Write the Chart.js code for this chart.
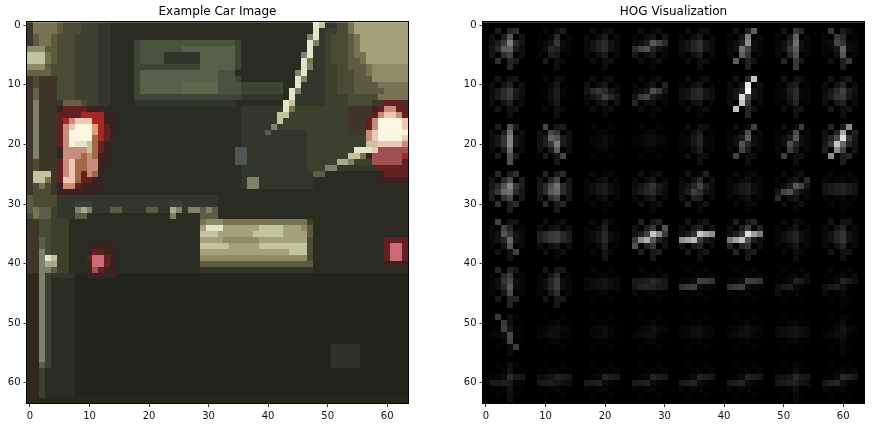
<!DOCTYPE html>
<html>
<head>
<meta charset="utf-8">
<script src="https://cdn.jsdelivr.net/npm/chart.js@4.4.1/dist/chart.umd.min.js"></script>
<style>
  html, body { margin: 0; padding: 0; background: #fff; overflow: hidden; }
  #wrap { position: relative; width: 874px; height: 427px; }
  .panel { position: absolute; top: 0; height: 427px; }
  #car-panel { left: 0; width: 437px; }
  #hog-panel { left: 456px; width: 418px; }
</style>
</head>
<body>
<div id="wrap">
  <div class="panel" id="car-panel"><canvas id="car-chart" width="437" height="427"></canvas></div>
  <div class="panel" id="hog-panel"><canvas id="hog-chart" width="418" height="427"></canvas></div>
</div>
<script>
// ----------------------------------------------------
// Data
// ----------------------------------------------------
const tickValues = [0, 10, 20, 30, 40, 50, 60];
const carTitle = 'Example Car Image';
const hogTitle = 'HOG Visualization';

// colour key for the 64x64 car picture
const carPalette = {
  '.': '#22251c', ',': '#2a2c22', ':': '#33362a', ';': '#3d3f2f',
  'o': '#4b4a35', 'O': '#5e5a3f', 'q': '#777453', 'k': '#8e8c66',
  'K': '#a4a27a', 'y': '#c4c3a0', 'Y': '#e4e4c8', 'w': '#fdf7e2',
  'g': '#3e4534', 'G': '#4a5240', 'h': '#56604a', 'H': '#5e684c',
  'i': '#30352a', 'b': '#3e3628', 'B': '#6a6048', 'x': '#7e806c',
  'X': '#a8a894', 'z': '#5c5c48', 'r': '#3a2220', 's': '#642020',
  'R': '#a42828', 'p': '#c88c7c', 'P': '#f0c6b4', 'c': '#a06a46',
  'a': '#e0a070', 'm': '#c86a7a', 'M': '#a05050', 'v': '#4d5852',
  'd': '#2e281d', 'u': '#303229', 'e': '#2a2719'
};

// one string per image row, run-length tokens "<colour><count>"
const carRows = [
  'b q4 O o3 ;3 :2 ,34 Y y :2 o2 q K9',
  'b q4 O o3 ;3 :2 ,34 Y : ;2 o2 q K9',
  'b O q2 O o3 ;4 :2 ,33 x Y : ; o3 O q K8',
  'b O q2 O o3 ;4 :2 ,4 g G16 g ,11 Y x : ; o3 O q K8',
  'k3 O2 o3 ;4 :2 ,4 g G7 h9 g ,11 Y :2 ; o3 O q K8',
  'y3 q O o3 ;4 :2 ,4 g G4 i6 h6 g ,10 x Y :2 ; o3 O q2 K7',
  'y3 q O o3 ;4 :2 ,4 g G4 i6 h6 g ,10 Y q :2 ; o3 O2 q K7',
  'k3 O o4 ;4 :2 ,4 g11 h6 g ,10 Y x :2 ;2 o2 O3 q k6',
  'B4 o4 ;4 :2 ,4 g h13 G3 , ,9 x Y :3 ;2 o3 O2 q k6',
  'b o b3 o3 ;4 :2 ,4 g h13 G3 g ,9 Y x :3 ;2 o3 O3 k6',
  'b o b3 o3 ;4 :2 ,4 g h7 H6 G4 g7 ,2 Y :4 ;2 o3 O4 q5',
  'b B b3 o3 ;4 :2 ,4 g h7 H6 G4 g7 , Y x :4 ;2 o3 O5 q4',
  'b B b3 o3 ;4 :2 ,4 g18 :7 , Y :5 ;4 o5 q5',
  'b x b4 B3 o ;2 :2 ,4 i17 ,8 Y y :5 ;4 o4 b2 s3 b',
  'b x b3 r s4 r3 ,23 :7 Y q ;9 b4 r s p2 s2',
  'b x b3 s4 R4 r r ,21 :6 y2 ;10 b4 s p P2 p s',
  'b x b3 s R p P3 R2 r r ,21 :6 y ;11 b3 s p w4 P',
  'b x b3 s p P w3 a R s r ,21 :5 x ;12 b3 s p w4 P',
  'b x b3 s p w4 a R s r ,21 :4 z :6 ;7 b3 p P w5',
  'b x b3 s p w4 c R s r ,21 :11 ;10 p P w4 P',
  'b x b3 s p w Y2 y c s r ,22 :11 ;10 y2 P4 p',
  'b x b3 r p4 y c s r ,21 v v :10 ;8 Y3 P M5',
  'b x b3 r p3 c p c r2 ,21 v v :10 ;7 y2 q r M5 R',
  'b o b3 s p P c2 p2 r2 ,21 v v :10 ;5 X2 x ;3 M5 s',
  'b o b3 s p P c2 p2 r , ,22 :11 ;3 x2 :7 s5',
  'b y3 b s p P c s p c r , ,22 :12 z2 ,9 r s4',
  'b y2 q b s P2 c s2 r2 , ,22 : x2 :9 ,11 r5',
  'b o q o b r p2 s r4 , ,22 : x2 :9 ,16',
  'b o3 b r7 ,52',
  'O o4 :27 ,32',
  'O o4 :3 ;3 :13 ;2 :6 ,32',
  'O q z2 ; :3 x X x :3 z2 :4 z2 :2 X x : x2 z x z ,32',
  'o q z2 ; :3 z2 ,14 x ,4 z3 d9 ,23',
  'b2 o2 ;3 ,22 q k3 q14 ; ,16',
  'b2 o2 ;3 ,22 K Y3 K6 y4 K3 k O ,16',
  'b2 o2 ;3 ,22 y3 K6 y5 K4 O ,16',
  'b2 z o ;3 ,22 K4 k6 K8 o ,12 s4',
  'b2 z o ;3 ,3 r5 ,14 y5 K5 y8 o ,12 s m2 s',
  'b2 x o ;3 ,3 r s2 r2 ,14 K15 y3 o ,12 s m2 s',
  'b2 x Y y ;2 ,3 s m2 s r ,14 k18 o ,12 s m2 s',
  'b2 x X2 ;2 ,3 r m2 s r ,14 O19 ,12 r4',
  'b2 x2 z ;2 ,3 r M s r2 ,14 :19 ,16',
  'd2 x ; :4 .2 r5 .49',
  'd2 x ; ,4 .56',
  'd2 x ; ,4 .56',
  'd2 x ; ,4 .56',
  'd2 x ; ,4 .56',
  'd2 x ; ,4 .56',
  'd2 x ; ,4 .56',
  'd2 x ; ,4 .56',
  'd2 x ; ,4 .56',
  'd2 x ; ,4 .56',
  'd2 x ; ,4 .56',
  'd2 x ; ,4 .56',
  'd2 x ; ,4 .43 u5 .8',
  'd2 x ; ,4 .43 u5 .8',
  'd2 x ; ,4 .43 u5 .8',
  'd2 z ; ,4 .43 u5 .8',
  'd2 ; ,5 .56',
  'd2 ; ,5 .56',
  'd2 ; ,5 .56',
  'd2 ; ,5 .56',
  'd2 ; ,5 .56',
  'd2 e62'
];

// HOG histograms: 8x8 cells, 9 orientation bins (0..160 deg) per cell
const hogCells = [
  [[16,10,10,9,9,6,6,6,6], [6,6,6,3,2,2,2,2,2], [5,3,3,4,4,4,4,3,3], [3,3,3,10,18,4,3,3,3],
   [5,3,3,4,5,5,4,3,3], [14,20,20,4,3,3,3,4,4], [24,8,8,4,3,3,3,5,5], [12,3,3,2,2,3,3,12,12]],
  [[7,4,4,5,6,5,5,4,4], [6,2,2,1,1,1,1,2,2], [4,3,3,3,5,9,8,3,3], [3,3,3,16,8,3,3,2,2],
   [3,3,3,3,6,6,3,3,3], [16,42,42,5,4,4,4,4,4], [7,3,3,2,2,2,2,4,4], [6,5,5,6,6,5,5,4,4]],
  [[34,6,6,5,5,5,5,6,6], [10,6,6,6,7,6,6,15,15], [1,1,1,1,1,1,1,1,1], [1,1,1,1,2,2,1,1,1],
   [6,3,3,2,2,2,2,3,3], [5,14,14,4,3,3,3,3,3], [5,13,13,4,3,3,3,3,3], [12,30,30,14,10,8,8,8,8]],
  [[12,10,10,12,12,9,9,9,9], [11,9,9,9,10,9,9,8,8], [2,2,2,3,3,3,3,2,2], [4,3,3,4,7,5,4,3,3],
   [4,7,7,7,5,4,4,4,4], [3,2,2,3,3,3,3,2,2], [3,3,3,18,10,3,3,3,3], [2,1,1,3,8,8,3,1,1]],
  [[8,4,4,4,4,4,4,14,14], [3,3,3,6,12,12,6,3,3], [9,2,2,2,3,3,2,2,2], [10,7,7,35,25,7,7,7,7],
   [5,5,5,8,62,6,5,5,5], [10,8,8,15,52,6,6,6,6], [5,2,2,3,3,3,3,2,2], [7,4,4,4,4,4,4,4,4]],
  [[15,5,5,3,3,3,3,8,8], [10,5,5,3,3,3,3,5,5], [1,1,1,1,4,4,1,1,1], [1,1,1,4,10,10,1,1,1],
   [1,1,1,3,22,2,1,1,1], [1,1,1,3,22,2,1,1,1], [1,1,1,6,5,1,1,1,1], [2,1,1,5,6,1,1,1,1]],
  [[5,1,1,1,2,1,1,12,12], [1,1,1,1,3,2,1,1,1], [1,1,1,1,1,1,1,1,1], [1,1,1,1,3,1,1,1,1],
   [1,1,1,1,2,2,1,1,1], [1,1,1,1,3,2,1,1,1], [1,1,1,1,4,4,1,1,1], [3,1,1,1,2,1,1,1,1]],
  [[6,1,1,1,10,2,1,1,1], [1,1,1,1,10,5,1,1,1], [1,1,1,2,10,1,1,1,1], [1,1,1,2,10,1,1,1,1],
   [1,1,1,2,10,1,1,1,1], [1,1,1,2,10,1,1,1,1], [4,1,1,1,10,6,1,1,1], [1,1,1,4,10,1,1,1,1]]
];

// ----------------------------------------------------
// Build pixel tables
// ----------------------------------------------------

// "K9" -> "KKKKKKKKK"
function expandRow(row) {
  let out = '';
  row.split(' ').forEach(tok => {
    const n = tok.length > 1 ? parseInt(tok.slice(1), 10) : 1;
    out += tok[0].repeat(n);
  });
  return out;
}

const carPoints = [];
carRows.forEach((row, y) => {
  const px = expandRow(row);
  for (let x = 0; x < 64; x++) {
    carPoints.push({ x, y, color: carPalette[px[x]] || carPalette['.'] });
  }
});

// line raster, same as skimage.draw.line
function rasterLine(r0, c0, r1, c1) {
  let r = r0, c = c0;
  let dr = Math.abs(r1 - r0), dc = Math.abs(c1 - c0);
  let sc = (c1 - c) > 0 ? 1 : -1;
  let sr = (r1 - r) > 0 ? 1 : -1;
  let steep = false;
  if (dr > dc) {
    steep = true;
    [c, r] = [r, c];
    [dc, dr] = [dr, dc];
    [sc, sr] = [sr, sc];
  }
  let d = 2 * dr - dc;
  const pts = [];
  for (let i = 0; i < dc; i++) {
    pts.push(steep ? [c, r] : [r, c]);
    while (d >= 0) {
      r += sr;
      d -= 2 * dc;
    }
    c += sc;
    d += 2 * dr;
  }
  pts.push([r1, c1]);
  return pts;
}

// HOG picture: each bin adds a short line through its cell centre
const hogImage = Array.from({ length: 64 }, () => new Array(64).fill(0));
hogCells.forEach((row, cy) => {
  row.forEach((bins, cx) => {
    bins.forEach((val, o) => {
      const ang = o / bins.length * Math.PI;
      const dx = 3 * Math.cos(ang);
      const dy = 3 * Math.sin(ang);
      const cr = cy * 8 + 4, cc = cx * 8 + 4;
      rasterLine(Math.trunc(cr - dx), Math.trunc(cc + dy), Math.trunc(cr + dx), Math.trunc(cc - dy))
        .forEach(([r, c]) => { hogImage[r][c] += val; });
    });
  });
});
const hogMax = Math.max(...hogImage.map(r => Math.max(...r)));
const hogPoints = [];
hogImage.forEach((row, r) => {
  row.forEach((v, c) => {
    const g = Math.round(255 * v / hogMax);
    hogPoints.push({ x: c, y: r, color: `rgb(${g},${g},${g})` });
  });
});

// ----------------------------------------------------
// Chart helpers
// ----------------------------------------------------

// paints each point as one image pixel, then the axes frame
const pixelPlugin = {
  id: 'pixelCells',
  beforeDatasetsDraw(chart) {
    const { ctx, chartArea, scales } = chart;
    const ds = chart.data.datasets[0];
    ctx.save();
    ctx.beginPath();
    ctx.rect(chartArea.left, chartArea.top, chartArea.width, chartArea.height);
    ctx.clip();
    ds.data.forEach(p => {
      const x0 = Math.round(scales.x.getPixelForValue(p.x - 0.5));
      const x1 = Math.round(scales.x.getPixelForValue(p.x + 0.5));
      const ya = Math.round(scales.y.getPixelForValue(p.y - 0.5));
      const yb = Math.round(scales.y.getPixelForValue(p.y + 0.5));
      ctx.fillStyle = p.color;
      ctx.fillRect(x0, Math.min(ya, yb), x1 - x0, Math.abs(yb - ya));
    });
    ctx.restore();
  },
  afterDraw(chart) {
    const { ctx, chartArea } = chart;
    ctx.save();
    ctx.strokeStyle = '#000';
    ctx.lineWidth = 1;
    ctx.strokeRect(Math.round(chartArea.left) - 0.5, Math.round(chartArea.top) - 0.5,
      Math.round(chartArea.width) + 1, Math.round(chartArea.height) + 1);
    ctx.restore();
  }
};

function axisOptions(isY) {
  return {
    type: 'linear',
    min: -0.5,
    max: 63.5,
    reverse: isY,
    afterBuildTicks: scale => { scale.ticks = tickValues.map(v => ({ value: v })); },
    afterFit: scale => {
      if (isY) scale.width = 27;
      else scale.height = 23.4;
    },
    grid: { display: true, drawOnChartArea: false, drawTicks: true, tickLength: 3.5, color: '#000', lineWidth: 0.8 },
    border: { display: false },
    ticks: {
      color: '#111',
      font: { family: 'DejaVu Sans', size: 10 },
      padding: 3,
      autoSkip: false,
      maxRotation: 0
    }
  };
}

function makePanel(canvasId, title, points, rightPad) {
  const ctx = document.getElementById(canvasId).getContext('2d');
  return new Chart(ctx, {
    type: 'scatter',
    data: {
      datasets: [{ data: points, pointRadius: 0, pointHoverRadius: 0 }]
    },
    options: {
      responsive: false,
      animation: false,
      events: [],
      layout: { padding: { left: 0, right: rightPad, top: 0, bottom: 0 } },
      plugins: {
        legend: { display: false },
        tooltip: { enabled: false },
        title: {
          display: true,
          text: title,
          fullSize: false,
          color: '#000',
          font: { family: 'DejaVu Sans', size: 12, weight: 'normal' },
          padding: { top: 4.5, bottom: 3.4 }
        }
      },
      scales: {
        x: axisOptions(false),
        y: axisOptions(true)
      }
    },
    plugins: [pixelPlugin]
  });
}

makePanel('car-chart', carTitle, carPoints, 29);
makePanel('hog-chart', hogTitle, hogPoints, 10);
</script>
</body>
</html>
